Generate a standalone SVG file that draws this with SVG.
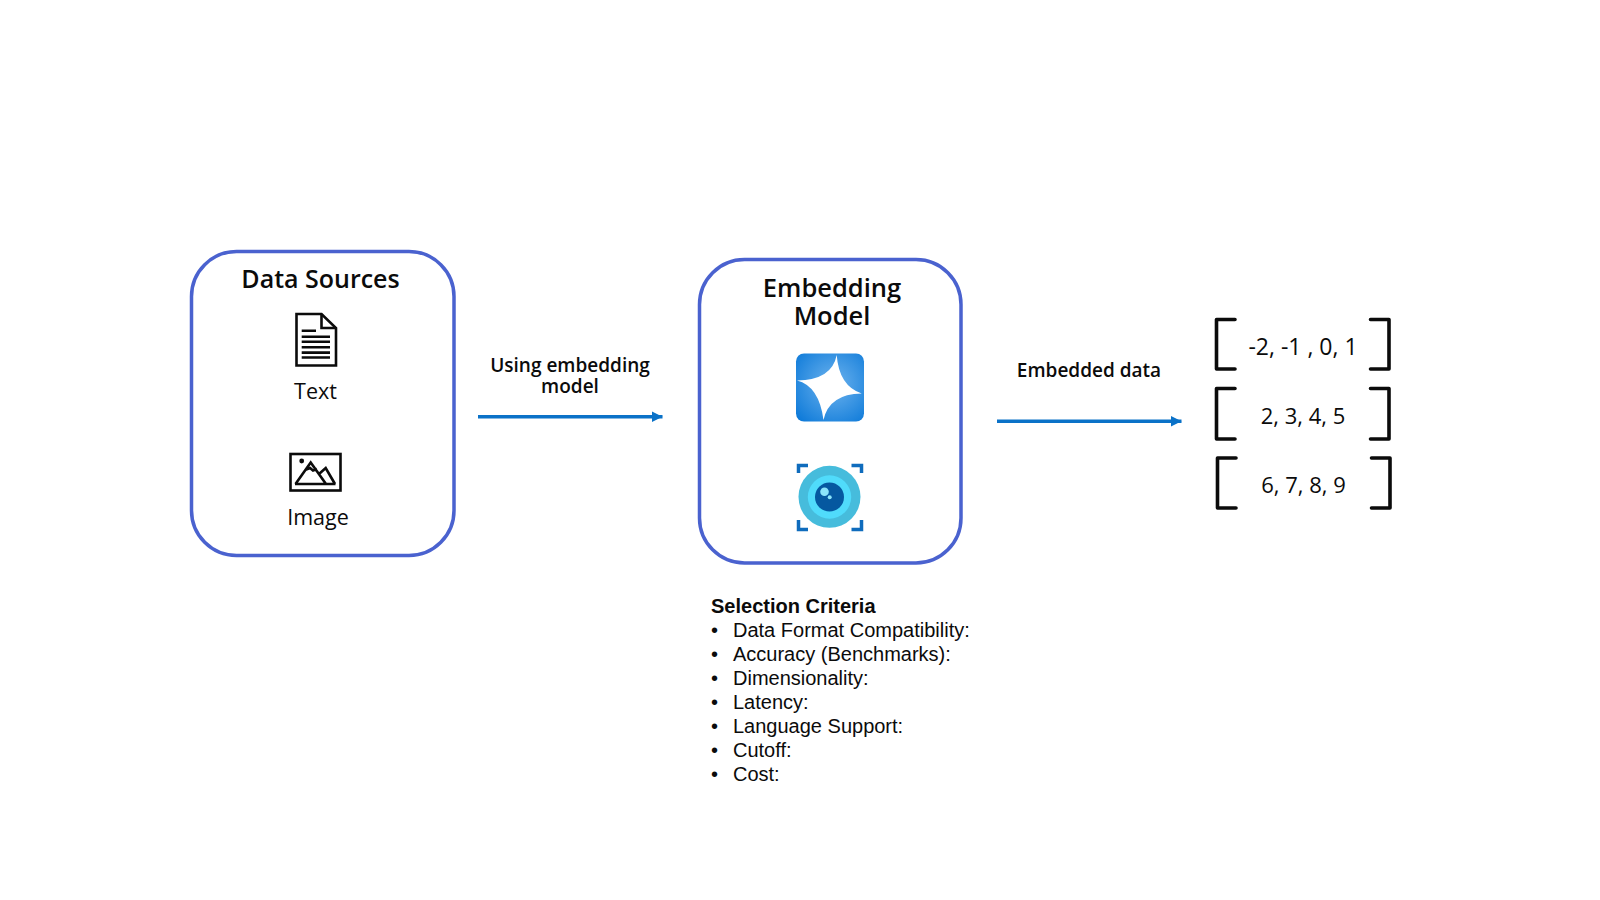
<svg xmlns="http://www.w3.org/2000/svg" width="1600" height="900" viewBox="0 0 1600 900">
<style>
text{font-family:"Open Sans","Noto Sans",sans-serif;fill:#0b0b0b}
.box{fill:#fff;stroke:#4a62cf;stroke-width:3.5}
.h{font-size:25px;font-weight:600;text-anchor:middle}
.h2{font-size:25.500px;font-weight:600;text-anchor:middle}
.l{font-size:19px;font-weight:600;text-anchor:middle}
.t{font-size:21.500px;text-anchor:middle}
.n{font-size:22px;text-anchor:middle}
.br{fill:none;stroke:#0b0b0b;stroke-width:3.6;stroke-linejoin:round;stroke-linecap:round}
.ic{fill:none;stroke:#0b0b0b;stroke-width:2.6}
.s text,.s{font-family:"Liberation Sans",Arial,sans-serif;font-size:20px}
.c{fill:none;stroke:#0f6cbd;stroke-width:3.5}
.conn{stroke:#0b72c8;stroke-width:3.4;fill:none;marker-end:url(#ah)}
</style>
<defs>
<marker id="ah" markerUnits="userSpaceOnUse" markerWidth="12" markerHeight="11" refX="11" refY="5.500" orient="auto"><path d="M0 0L11 5.500L0 11Z" fill="#0b72c8"/></marker>
<radialGradient id="sq" cx="0.55" cy="0.45" r="0.75"><stop offset="0" stop-color="#6db3ee"/><stop offset="1" stop-color="#0a78d8"/></radialGradient>
</defs>
<rect width="1600" height="900" fill="#fff"/>
<g id="connectors">
<path class="conn" d="M478 416.700H662.500"/>
<path class="conn" d="M997 421.300H1181.500"/>
</g>
<g id="data-sources">
<rect class="box" x="191.500" y="251.500" width="262.500" height="304" rx="45"/>
<text class="h" x="320.500" y="288">Data Sources</text>
<g id="text-icon" class="ic">
<path d="M296.500 314H321.500L336 328V365.500H296.500Z"/><path d="M321.500 314V328H336"/>
<path d="M301.700 330.700H316M301.700 336.700H330M301.700 341.800H330M301.700 347.300H330M301.700 352.600H330M301.700 357.500H330"/>
</g>
<text class="t" x="315.500" y="398.800">Text</text>
<g id="image-icon" class="ic">
<rect x="290.500" y="454" width="50" height="36.500"/>
<circle cx="301.700" cy="461" r="2.400" fill="#0b0b0b" stroke="none"/>
<path d="M295 484H335.500M295.500 484L310.700 462.500L326 484M319 474L325.700 468L335 484M305 470L310 468L313 470.500L317 469"/>
</g>
<text class="t" x="318" y="524.800">Image</text>
</g>
<g id="embedding-model">
<rect class="box" x="699.500" y="259.500" width="261.500" height="303.500" rx="45"/>
<text class="h2" x="832" y="297">Embedding</text>
<text class="h2" x="832" y="325">Model</text>
<g id="star-icon">
<rect x="796" y="353.500" width="68" height="68" rx="8" fill="url(#sq)"/>
<path d="M836.700 355Q839 386 861.700 393.500Q829 394 823.500 420Q819 386 797 380.500Q832 380 836.700 355Z" fill="#fff"/>
</g>
<g id="camera-icon">
<path class="c" d="M798.500 473V465.500H808M851.500 465.500H861.500V473M798.500 520V529.500H808M851.500 529.500H861.500V520"/>
<circle cx="829.500" cy="496.800" r="31" fill="#46bcdc"/>
<circle cx="829.500" cy="497" r="21.700" fill="#50dbfb"/>
<circle cx="829.500" cy="497" r="14.500" fill="#0558a0"/>
<circle cx="824.500" cy="491.700" r="4.300" fill="#8be4fa"/>
<circle cx="829.700" cy="497.300" r="2" fill="#8be4fa"/>
</g>
</g>
<text class="l" x="570" y="372">Using embedding</text>
<text class="l" x="570" y="393">model</text>
<text class="l" x="1089" y="376.800">Embedded data</text>
<g id="vectors">
<path class="br" d="M1235 319.500H1216.500V369H1235M1370.500 319.500H1389V369H1370.500"/>
<path class="br" d="M1235 388.500H1216.500V439H1235M1370.500 388.500H1389V439H1370.500"/>
<path class="br" d="M1236 458H1217.500V508H1236M1371.500 458H1390V508H1371.500"/>
<text class="n" x="1303" y="354.500" style="font-size:23px">-2, -1 , 0, 1</text>
<text class="n" x="1303" y="424">2, 3, 4, 5</text>
<text class="n" x="1303.500" y="492.800">6, 7, 8, 9</text>
</g>
<g id="selection-criteria" class="s">
<text x="711" y="613" font-weight="700">Selection Criteria</text>
<text x="711" y="637">•</text><text x="733" y="637">Data Format Compatibility:</text>
<text x="711" y="661">•</text><text x="733" y="661">Accuracy (Benchmarks):</text>
<text x="711" y="685">•</text><text x="733" y="685">Dimensionality:</text>
<text x="711" y="709">•</text><text x="733" y="709">Latency:</text>
<text x="711" y="733">•</text><text x="733" y="733">Language Support:</text>
<text x="711" y="757">•</text><text x="733" y="757">Cutoff:</text>
<text x="711" y="781">•</text><text x="733" y="781">Cost:</text>
</g>
</svg>
